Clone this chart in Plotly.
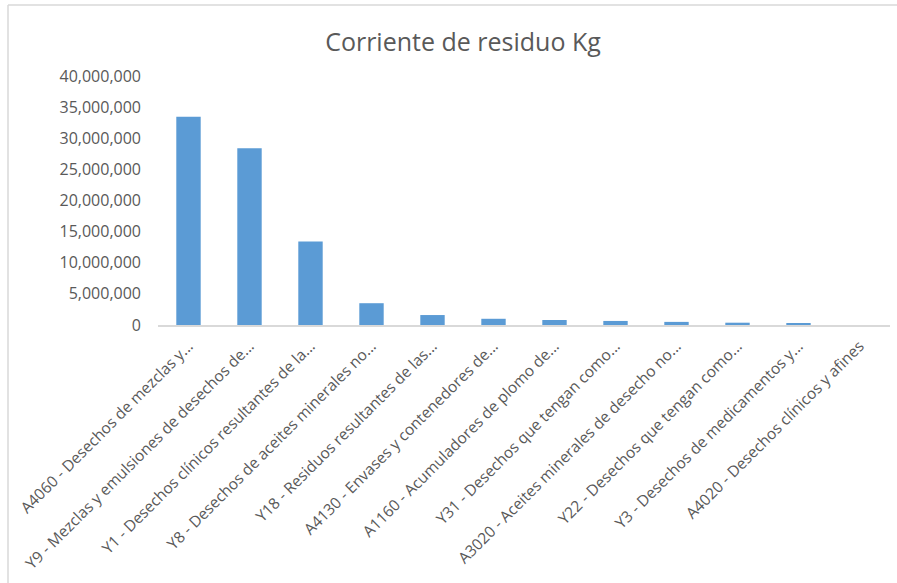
import plotly.graph_objects as go

title_text = "Corriente de residuo Kg"
categories = [
    "A4060 - Desechos de mezclas y...",
    "Y9 - Mezclas y emulsiones de desechos de...",
    "Y1 - Desechos clínicos resultantes de la...",
    "Y8 - Desechos de aceites minerales no...",
    "Y18 - Residuos resultantes de las...",
    "A4130 - Envases y contenedores de...",
    "A1160 - Acumuladores de plomo de...",
    "Y31 - Desechos que tengan como...",
    "A3020 - Aceites minerales de desecho no...",
    "Y22 - Desechos que tengan como...",
    "Y3 - Desechos de medicamentos y...",
    "A4020 - Desechos clínicos y afines",
]
values = [33450000, 28400000, 13400000, 3500000, 1600000, 1000000,
          800000, 650000, 500000, 370000, 320000, 0]
y_ticks = [0, 5000000, 10000000, 15000000, 20000000, 25000000,
           30000000, 35000000, 40000000]
y_tick_labels = ["0", "5,000,000", "10,000,000", "15,000,000", "20,000,000",
                 "25,000,000", "30,000,000", "35,000,000", "40,000,000"]

W, H = 897, 583
L, R, T, B = 158, 7, 76, 258
pw, ph = W - L - R, H - T - B

def px_x(px):
    return (px - L) / pw

def px_y(py):
    return (H - B - py) / ph

fig = go.Figure(go.Bar(
    x=categories, y=values,
    marker=dict(color="#5B9BD5", line=dict(width=0)),
    hoverinfo="x+y",
))

font_family = "Open Sans, Liberation Sans, sans-serif"
fig.update_layout(
    width=W, height=H,
    margin=dict(l=L, r=R, t=T, b=B, autoexpand=False),
    paper_bgcolor="white", plot_bgcolor="white",
    bargap=0.6,
    showlegend=False,
    title=dict(text=title_text, x=463 / W, xanchor="center",
               y=1 - 42 / H, yanchor="middle",
               font=dict(family=font_family, size=25, color="#595959")),
    font=dict(family=font_family, color="#595959"),
)
fig.update_xaxes(
    tickangle=-45, tickfont=dict(size=15.5, color="#595959"),
    showline=True, linecolor="#D9D9D9", linewidth=2,
    showgrid=False, ticks="", ticklabelstandoff=4,
)
fig.update_yaxes(
    range=[0, 40000000], tickvals=y_ticks, ticktext=y_tick_labels,
    tickfont=dict(size=16, color="#595959"),
    showgrid=False, zeroline=False, showline=False, ticks="",
    ticklabelstandoff=16,
)
# chart area border (Excel style)
fig.add_shape(type="line", xref="paper", yref="paper",
              x0=px_x(8), x1=px_x(905), y0=px_y(5), y1=px_y(5),
              line=dict(color="#D9D9D9", width=1.5))
fig.add_shape(type="line", xref="paper", yref="paper",
              x0=px_x(8), x1=px_x(8), y0=px_y(5), y1=px_y(590),
              line=dict(color="#D9D9D9", width=1.5))

fig.write_html("out.html", config={"displayModeBar": False},
               post_script="document.body.style.margin='0';document.body.style.overflow='hidden';")
